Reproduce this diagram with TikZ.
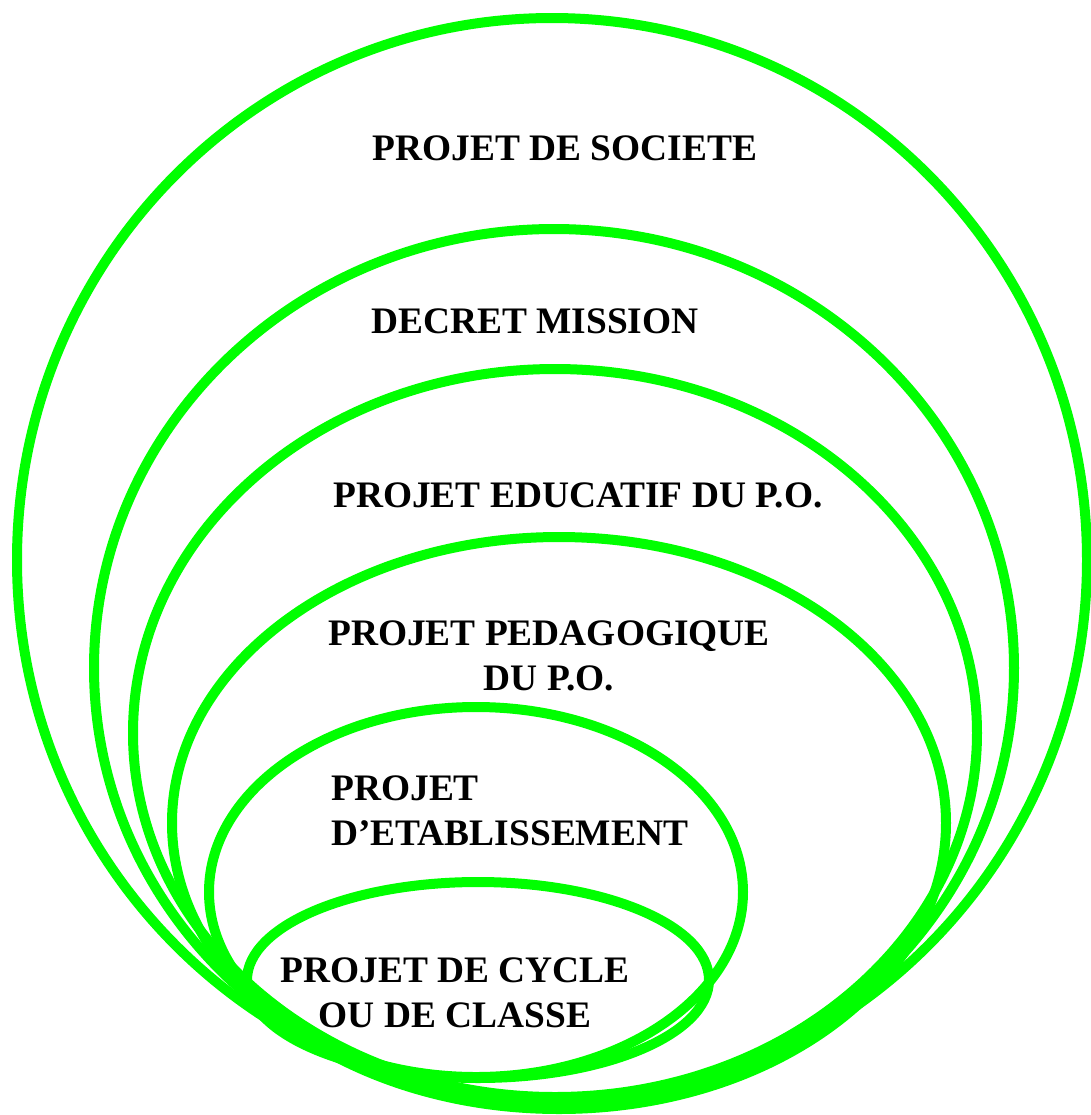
\documentclass[tikz,border=0pt]{standalone}
\usepackage{fontspec}
\setmainfont{Liberation Serif}
\begin{document}
\begin{tikzpicture}[x=0.5pt,y=-0.5pt,
  bulle/.style={draw=green, line width=5pt},
  titre/.style={font=\fontsize{18.7}{22.5}\selectfont\bfseries, inner sep=0pt}]
	\useasboundingbox (0,0) rectangle (1091,1115);
	\coordinate (Csoc) at (552,560);
	\coordinate (Cdec) at (554,668);
	\coordinate (Cedu) at (555,733);
	\coordinate (Cped) at (559,823);
	\coordinate (Ceta) at (476,892);
	\coordinate (Ccyc) at (478,980);

	% les ellipses
	\draw[bulle] (Csoc) ellipse [x radius=267.5pt, y radius=271pt];
	\draw[bulle] (Cdec) ellipse [x radius=230pt, y radius=219.5pt];
	\draw[bulle] (Cedu) ellipse [x radius=211pt, y radius=182pt];
	\draw[bulle] (Cped) ellipse [x radius=193.5pt, y radius=143pt];
	\draw[bulle] (Ceta) ellipse [x radius=133.5pt, y radius=92.5pt];
	\draw[bulle] (Ccyc) ellipse [x radius=115.5pt, y radius=49pt];

	% les textes
	\node[titre, anchor=base] (soc) at (565,160) {PROJET DE SOCIETE};
	\node[titre, anchor=base] (dec) at (535,333) {DECRET MISSION};
	\node[titre, anchor=base] (edu) at (578,507) {PROJET EDUCATIF DU P.O.};
	\node[titre, anchor=base, align=center] (ped) at (549,690) {PROJET PEDAGOGIQUE\\DU P.O.};
	\node[titre, anchor=base west, align=left] (eta) at (331,845) {PROJET\\D’ETABLISSEMENT};
	\node[titre, anchor=base, align=center] (cyc) at (455,1027) {PROJET DE CYCLE\\OU DE CLASSE};

\end{tikzpicture}
\end{document}
